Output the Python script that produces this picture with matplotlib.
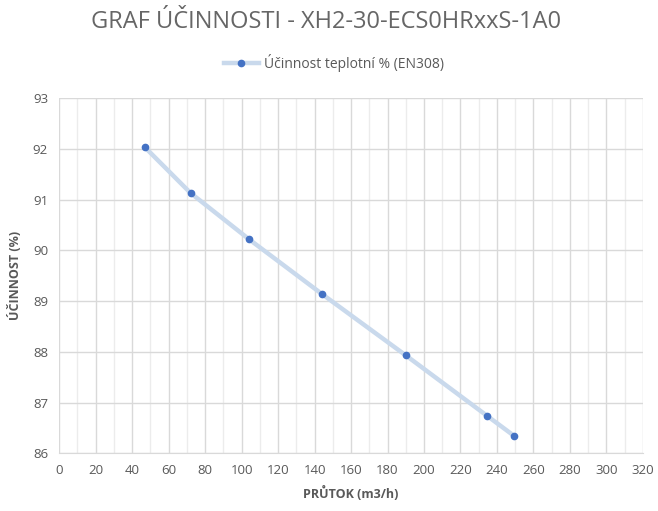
import matplotlib.pyplot as plt
from matplotlib.ticker import MultipleLocator

plt.rcParams['font.family'] = ['Open Sans', 'DejaVu Sans']

prutok = [47, 72, 104, 144, 190, 234.5, 249.5]
ucinnost = [92.03, 91.13, 90.22, 89.14, 87.93, 86.74, 86.34]

fig, ax = plt.subplots(figsize=(6.58, 5.11), dpi=100)
fig.subplots_adjust(left=0.09, right=0.977, top=0.808, bottom=0.113)

ax.plot(prutok, ucinnost, '-', color='#c9d9ec', linewidth=3.2, zorder=2)
ax.plot(prutok, ucinnost, 'o', color='#4472c4', markersize=4.5, zorder=3)
# legend handle combines line and marker
h = ax.plot([], [], '-o', color='#c9d9ec', linewidth=3.2, markerfacecolor='#4472c4',
            markeredgecolor='#4472c4', markersize=4.5)[0]

ax.set_xlim(0, 320)
ax.set_ylim(86, 93)
ax.xaxis.set_major_locator(MultipleLocator(20))
ax.xaxis.set_minor_locator(MultipleLocator(10))
ax.yaxis.set_major_locator(MultipleLocator(1))
ax.grid(which='major', color='#d9d9d9', linewidth=1)
ax.grid(which='minor', axis='x', color='#ececec', linewidth=1)
ax.set_axisbelow(True)
for s in ax.spines.values():
    s.set_visible(False)
ax.spines['bottom'].set_visible(True)
ax.spines['bottom'].set_color('#d9d9d9')
ax.tick_params(which='both', length=0, labelsize=9.5, labelcolor='#595959', pad=8)

ax.set_xlabel('PRŮTOK (m3/h)', fontsize=9, fontweight='bold', color='#595959', labelpad=6)
ax.set_ylabel('ÚČINNOST (%)', fontsize=9, fontweight='bold', color='#595959', labelpad=8)

fig.text(0.496, 0.945, 'GRAF ÚČINNOSTI - XH2-30-ECS0HRxxS-1A0', ha='center', va='baseline',
         fontsize=17, color='#666666')
fig.legend([h], ['Účinnost teplotní % (EN308)'], loc='center', bbox_to_anchor=(0.508, 0.877),
           frameon=False, fontsize=10, labelcolor='#595959', handlelength=2.5, handletextpad=0.4)

plt.savefig('out.png', dpi=100)
plt.close()
